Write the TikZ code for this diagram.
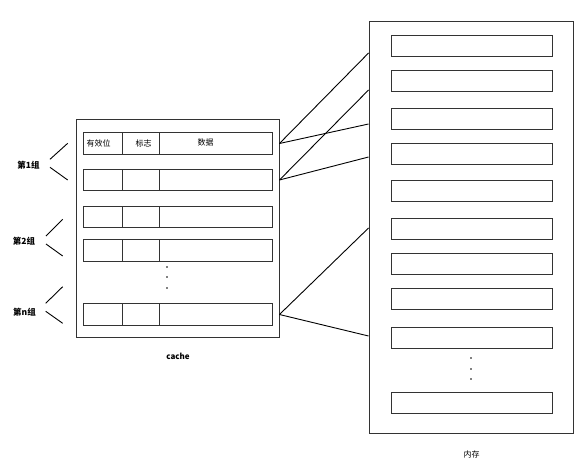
\documentclass[tikz,border=0pt]{standalone}
\usepackage{fontspec}
\setmainfont{Noto Sans CJK SC}
\usepackage{tikz}
\usetikzlibrary{calc}

\begin{document}
\begin{tikzpicture}[x=1pt, y=-1pt,
  outerbox/.style={draw=black!80, line width=0.9pt, inner sep=0pt},
  cell/.style={draw=black!80, line width=0.9pt, minimum height=21.5pt, inner sep=0pt, font=\fontsize{8}{9}\selectfont},
  memrow/.style={draw=black!80, line width=0.9pt, minimum width=161pt, minimum height=21pt, inner sep=0pt},
  grouplabel/.style={font=\fontsize{8.5}{9}\selectfont\bfseries},
  caption/.style={font=\fontsize{8}{9}\selectfont},
  wire/.style={black, line width=0.9pt}
]
\useasboundingbox (0,0) rectangle (579,469);

% --- Cache box ---
\node[outerbox, minimum width=203pt, minimum height=218pt] (cache) at (177.5,228) {};

% --- Cache rows (valid / tag / data) ---
\foreach \r/\y in {1/143.5, 2/180, 3/217, 4/250.5, n/314.5} {
  \node[cell, minimum width=39pt] (v\r) at (102.5,\y) {};
  \node[cell, minimum width=37pt] (t\r) at (140.5,\y) {};
  \node[cell, minimum width=113pt] (d\r) at (215.5,\y) {};
}
\node[font=\fontsize{8}{9}\selectfont] at ([xshift=-4pt]v1) {有效位};
\node[font=\fontsize{8}{9}\selectfont] at ([xshift=3pt]t1) {标志};
\node[font=\fontsize{8}{9}\selectfont] at ([xshift=-10pt, yshift=1.5pt]d1) {数据};

% --- Dots ---
\foreach \y in {267,277,288} \fill (167,\y) circle (0.8pt);

% --- Group labels ---
\node[grouplabel] (g1) at (28.5,165) {第1组};
\node[grouplabel] (g2) at (24,241) {第2组};
\node[grouplabel] (gn) at (24.5,312) {第n组};

\draw[wire] (50,159.3) -- (67.7,143.3);
\draw[wire] (50,167.3) -- (67.7,180);
\draw[wire] (46,236) -- (62.7,219.3);
\draw[wire] (46,244) -- (62.7,256);
\draw[wire] (45.7,303.3) -- (62.7,286.7);
\draw[wire] (45.7,311.3) -- (62.7,323.3);

\node[caption, font=\fontsize{8}{9}\selectfont\bfseries] (cachelabel) at (178,356) {cache};

% --- Memory box ---
\node[outerbox, minimum width=204pt, minimum height=412pt] (mem) at (471,227) {};
\foreach \i/\y in {1/45.5, 2/80.5, 3/118.5, 4/153.5, 5/190.5, 6/229, 7/264, 8/299, 9/337.5, 10/402.5} {
  \node[memrow] (m\i) at (471.5,\y) {};
}
\foreach \y in {358,369,379} \fill (471,\y) circle (0.8pt);

\node[caption] (memlabel) at (471.5,454) {内存};

% --- Mapping lines ---
\coordinate (a1) at (mem.west |- 0,53);
\coordinate (a2) at (mem.west |- 0,124);
\coordinate (b1) at (mem.west |- 0,90);
\coordinate (b2) at (mem.west |- 0,157);
\coordinate (c1) at (mem.west |- 0,228);
\coordinate (c2) at (mem.west |- 0,336);

\draw[wire] (cache.east |- d1.east) -- (a1);
\draw[wire] (cache.east |- d1.east) -- (a2);
\draw[wire] (cache.east |- d2.east) -- (b1);
\draw[wire] (cache.east |- d2.east) -- (b2);
\draw[wire] (cache.east |- dn.east) -- (c1);
\draw[wire] (cache.east |- dn.east) -- (c2);

\end{tikzpicture}
\end{document}
